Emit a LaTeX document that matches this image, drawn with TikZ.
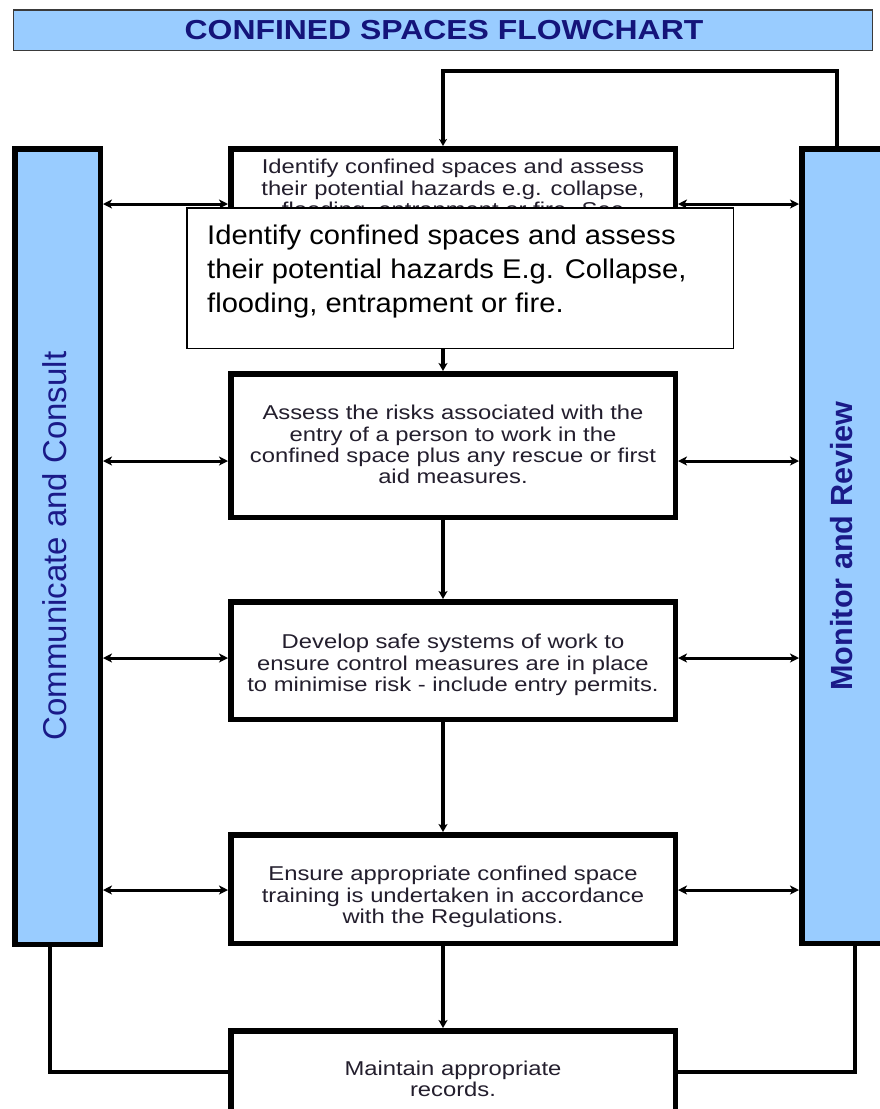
\documentclass[tikz,border=0pt]{standalone}
\usepackage{fontspec}
\setmainfont{Liberation Sans}
\usetikzlibrary{arrows.meta}
\definecolor{colfill}{HTML}{99CCFF}
\definecolor{navy}{HTML}{14147A}
\definecolor{labnavy}{HTML}{1A1A88}
\definecolor{boxtext}{HTML}{231E2D}
\definecolor{barline}{HTML}{3A3A3A}
\tikzset{
  stepbox/.style={draw=black, line width=5.5pt, fill=white, inner sep=0pt, minimum width=444.5pt},
  colbox/.style={draw=black, line width=5.5pt, fill=colfill, inner sep=0pt, minimum width=85.5pt},
  boxtxt/.style={inner sep=0pt, text=boxtext, font=\fontsize{20}{21.3}\selectfont},
  vflow/.style={line width=3.5pt, -{Stealth[length=8pt,width=9pt,inset=2pt]}},
  hflow/.style={line width=3pt, {Stealth[length=9pt,width=9pt,inset=2.5pt]}-{Stealth[length=9pt,width=9pt,inset=2.5pt]}},
  loopln/.style={line width=4.5pt, line join=miter},
}
\newcommand{\btxt}[1]{\scalebox{1.19}[1]{\begin{tabular}{@{}c@{}}#1\end{tabular}}}
\begin{document}
\begin{tikzpicture}[x=1pt,y=-1pt]
\useasboundingbox (0,0) rectangle (880,1109);

% title bar
\node[draw=barline, line width=1.5pt, fill=colfill, inner sep=0pt,
      minimum width=859pt, minimum height=40.5pt] (title) at (443,30) {};
\node[inner sep=0pt, text=navy, font=\fontsize{27.5}{30}\selectfont\bfseries] (titletxt) at (444,30)
  {\scalebox{1.16}[1]{CONFINED SPACES FLOWCHART}};

% side columns
\node[colbox, minimum height=795.5pt] (lcol) at (57.5,546.5) {};
\node[colbox, minimum height=794.5pt] (rcol) at (844.5,546) {};
\node[rotate=90, inner sep=0pt, text=labnavy, font=\fontsize{33}{36}\selectfont] (ltxt) at (55,546)
  {Communicate and Consult};
\node[rotate=90, inner sep=0pt, text=labnavy, font=\fontsize{30.6}{34}\selectfont\bfseries] (rtxt) at (842,546)
  {Monitor and Review};

% step boxes
\node[stepbox, minimum height=88.5pt]  (b1) at (453,193) {};
\node[stepbox, minimum height=143.5pt] (b2) at (453,445.5) {};
\node[stepbox, minimum height=117.5pt] (b3) at (453,660.5) {};
\node[stepbox, minimum height=108.5pt] (b4) at (453,889) {};
\node[stepbox, minimum height=106.5pt] (b5) at (453,1084) {};

\node[boxtxt] (t1) at (453,191) {\btxt{Identify confined spaces and assess\\their potential hazards e.g. collapse,\\flooding, entrapment or fire. See}};
\node[boxtxt] (t2) at (453,447.5) {\btxt{Assess the risks associated with the\\entry of a person to work in the\\confined space plus any rescue or first\\aid measures.}};
\node[boxtxt] (t3) at (453,666) {\btxt{Develop safe systems of work to\\ensure control measures are in place\\to minimise risk - include entry permits.}};
\node[boxtxt] (t4) at (453,898) {\btxt{Ensure appropriate confined space\\training is undertaken in accordance\\with the Regulations.}};
\node[boxtxt] (t5) at (453,1082) {\btxt{Maintain appropriate\\records.}};

% arrow levels
\coordinate (a1) at (0,204);
\coordinate (a2) at (0,461);
\coordinate (a3) at (0,658);
\coordinate (a4) at (0,890);
\coordinate (topline) at (640,71);
\coordinate (botline) at (453,1072);

% horizontal double arrows
\foreach \b/\a in {b1/a1,b2/a2,b3/a3,b4/a4}{
  \draw[hflow] (lcol.east |- \a) -- (\b.west |- \a);
  \draw[hflow] (\b.east |- \a) -- (rcol.west |- \a);
}

% vertical flow arrows
\draw[vflow] ([xshift=-10pt]b1.south) -- ([xshift=-10pt]b2.north);
\draw[vflow] ([xshift=-10pt]b2.south) -- ([xshift=-10pt]b3.north);
\draw[vflow] ([xshift=-10pt]b3.south) -- ([xshift=-10pt]b4.north);
\draw[vflow] ([xshift=-10pt]b4.south) -- ([xshift=-10pt]b5.north);

% feedback loops
\draw[loopln, -{Stealth[length=7pt,width=8pt,inset=2pt]}] ([xshift=-7.5pt]rcol.north) |- (topline) -| ([xshift=-10pt]b1.north);
\draw[loopln] ([xshift=-7.5pt]lcol.south) |- (b5.west |- botline);
\draw[loopln] ([xshift=10.5pt]rcol.south) |- (b5.east |- botline);

% overlay text box
\node[draw=black, line width=1.5pt, fill=white, inner sep=0pt,
      minimum width=546.5pt, minimum height=140.5pt] (ovl) at (460,278) {};
\node[anchor=west, inner sep=0pt, text=black, font=\fontsize{27}{34}\selectfont] (ovltxt) at (207,271.2)
  {\scalebox{1.08}[1]{\begin{tabular}{@{}l@{}}Identify confined spaces and assess\\their potential hazards E.g. Collapse,\\flooding, entrapment or fire.\end{tabular}}};
\end{tikzpicture}
\end{document}
